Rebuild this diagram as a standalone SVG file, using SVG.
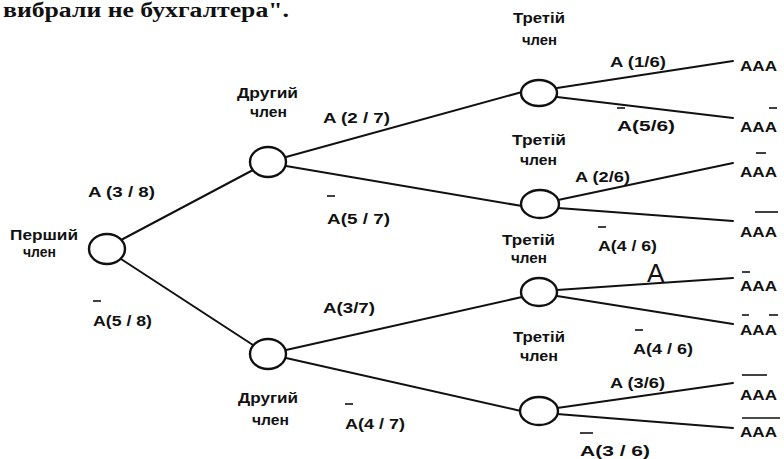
<svg xmlns="http://www.w3.org/2000/svg" width="784" height="459" viewBox="0 0 784 459">
  <style>
    .bg { fill: #ffffff; }
    .node { fill: #ffffff; stroke: #111; stroke-width: 2.4; }
    .edge { stroke: #111; stroke-width: 2; fill: none; stroke-linecap: round; }
    .bar { stroke: #111; stroke-width: 1.6; fill: none; }
    .lbl { font-family: "Liberation Sans", Arial, sans-serif; font-weight: bold; font-size: 15px; fill: #111; }
    .big { font-family: "Liberation Sans", Arial, sans-serif; font-size: 26px; fill: #111; }
    .head { font-family: "Liberation Serif", "Times New Roman", serif; font-weight: bold; font-size: 20px; fill: #111; }
  </style>
  <rect class="bg" x="0" y="0" width="784" height="459"/>

  <!-- heading line -->
  <text class="head" x="3" y="17" textLength="286" lengthAdjust="spacingAndGlyphs">вибрали не бухгалтера".</text>

  <!-- connectors -->
  <g id="connectors">
    <line class="edge" x1="121" y1="240" x2="253" y2="170"/>
    <line class="edge" x1="121" y1="259" x2="253" y2="345"/>
    <line class="edge" x1="286" y1="157" x2="522" y2="92"/>
    <line class="edge" x1="286" y1="166" x2="522" y2="206"/>
    <line class="edge" x1="286" y1="350" x2="522" y2="297"/>
    <line class="edge" x1="286" y1="358" x2="521" y2="411"/>
    <line class="edge" x1="557" y1="88" x2="733" y2="61"/>
    <line class="edge" x1="557" y1="97" x2="733" y2="118"/>
    <line class="edge" x1="558" y1="200" x2="733" y2="163"/>
    <line class="edge" x1="558" y1="208" x2="733" y2="221"/>
    <line class="edge" x1="557" y1="290" x2="733" y2="278"/>
    <line class="edge" x1="557" y1="296" x2="733" y2="324"/>
    <line class="edge" x1="557" y1="408" x2="733" y2="383"/>
    <line class="edge" x1="557" y1="414" x2="733" y2="428"/>
  </g>

  <!-- branch probabilities -->
  <g id="edge-labels">
    <text class="lbl" x="88" y="197" textLength="67" lengthAdjust="spacingAndGlyphs">A (3 / 8)</text>
    <text class="lbl" x="93" y="326" textLength="59" lengthAdjust="spacingAndGlyphs">A(5 / 8)</text>
    <line class="bar" x1="93" y1="301" x2="101" y2="301"/>
    <text class="lbl" x="323" y="123" textLength="67" lengthAdjust="spacingAndGlyphs">A (2 / 7)</text>
    <text class="lbl" x="327" y="224" textLength="63" lengthAdjust="spacingAndGlyphs">A(5 / 7)</text>
    <line class="bar" x1="327" y1="196" x2="335" y2="196"/>
    <text class="lbl" x="323" y="313" textLength="52" lengthAdjust="spacingAndGlyphs">A(3/7)</text>
    <text class="lbl" x="345" y="429" textLength="60" lengthAdjust="spacingAndGlyphs">A(4 / 7)</text>
    <line class="bar" x1="345" y1="404" x2="353" y2="404"/>
    <text class="lbl" x="610" y="67" textLength="56" lengthAdjust="spacingAndGlyphs">A (1/6)</text>
    <text class="lbl" x="617" y="131" textLength="58" lengthAdjust="spacingAndGlyphs">A(5/6)</text>
    <line class="bar" x1="617" y1="108" x2="625" y2="108"/>
    <text class="lbl" x="575" y="182" textLength="55" lengthAdjust="spacingAndGlyphs">A (2/6)</text>
    <text class="lbl" x="598" y="251" textLength="59" lengthAdjust="spacingAndGlyphs">A(4 / 6)</text>
    <line class="bar" x1="598" y1="227" x2="606" y2="227"/>
    <text class="big" x="647" y="282">A</text>
    <text class="lbl" x="633" y="354" textLength="60" lengthAdjust="spacingAndGlyphs">A(4 / 6)</text>
    <line class="bar" x1="635" y1="330" x2="643" y2="330"/>
    <text class="lbl" x="610" y="388" textLength="55" lengthAdjust="spacingAndGlyphs">A (3/6)</text>
    <text class="lbl" x="580" y="456" textLength="70" lengthAdjust="spacingAndGlyphs">A(3 / 6)</text>
    <line class="bar" x1="580" y1="433" x2="593" y2="433"/>
  </g>

  <!-- tree nodes -->
  <g id="n1">
    <ellipse class="node" cx="107" cy="249" rx="18" ry="15"/>
    <text class="lbl" x="10" y="240" textLength="68" lengthAdjust="spacingAndGlyphs">Перший</text>
    <text class="lbl" x="23" y="257" textLength="33" lengthAdjust="spacingAndGlyphs">член</text>
  </g>
  <g id="n2-top">
    <ellipse class="node" cx="268" cy="162" rx="18" ry="15"/>
    <text class="lbl" x="237" y="98" textLength="61" lengthAdjust="spacingAndGlyphs">Другий</text>
    <text class="lbl" x="250" y="117" textLength="37" lengthAdjust="spacingAndGlyphs">член</text>
  </g>
  <g id="n2-bottom">
    <ellipse class="node" cx="268" cy="354" rx="18" ry="15"/>
    <text class="lbl" x="238" y="403" textLength="60" lengthAdjust="spacingAndGlyphs">Другий</text>
    <text class="lbl" x="252" y="425" textLength="37" lengthAdjust="spacingAndGlyphs">член</text>
  </g>
  <g id="n3-1">
    <ellipse class="node" cx="539" cy="93" rx="18" ry="13"/>
    <text class="lbl" x="513" y="23" textLength="52" lengthAdjust="spacingAndGlyphs">Третій</text>
    <text class="lbl" x="522" y="45" textLength="35" lengthAdjust="spacingAndGlyphs">член</text>
  </g>
  <g id="n3-2">
    <ellipse class="node" cx="540" cy="204" rx="19" ry="14"/>
    <text class="lbl" x="512" y="145" textLength="54" lengthAdjust="spacingAndGlyphs">Третій</text>
    <text class="lbl" x="520" y="165" textLength="37" lengthAdjust="spacingAndGlyphs">член</text>
  </g>
  <g id="n3-3">
    <ellipse class="node" cx="539" cy="292" rx="18" ry="14"/>
    <text class="lbl" x="502" y="245" textLength="53" lengthAdjust="spacingAndGlyphs">Третій</text>
    <text class="lbl" x="511" y="263" textLength="36" lengthAdjust="spacingAndGlyphs">член</text>
  </g>
  <g id="n3-4">
    <ellipse class="node" cx="539" cy="411" rx="19" ry="14"/>
    <text class="lbl" x="513" y="342" textLength="52" lengthAdjust="spacingAndGlyphs">Третій</text>
    <text class="lbl" x="520" y="361" textLength="38" lengthAdjust="spacingAndGlyphs">член</text>
  </g>

  <!-- outcomes -->
  <g id="leaf-1"><text class="lbl" x="740" y="71" textLength="37" lengthAdjust="spacingAndGlyphs">AAA</text></g>
  <g id="leaf-2"><text class="lbl" x="740" y="132" textLength="37" lengthAdjust="spacingAndGlyphs">AAA</text>
    <line class="bar" x1="769" y1="108" x2="777" y2="108"/></g>
  <g id="leaf-3"><text class="lbl" x="740" y="177" textLength="37" lengthAdjust="spacingAndGlyphs">AAA</text>
    <line class="bar" x1="756" y1="153" x2="766" y2="153"/></g>
  <g id="leaf-4"><text class="lbl" x="740" y="237" textLength="37" lengthAdjust="spacingAndGlyphs">AAA</text>
    <line class="bar" x1="755" y1="212" x2="778" y2="212"/></g>
  <g id="leaf-5"><text class="lbl" x="740" y="291" textLength="37" lengthAdjust="spacingAndGlyphs">AAA</text>
    <line class="bar" x1="742" y1="272" x2="750" y2="272"/></g>
  <g id="leaf-6"><text class="lbl" x="740" y="335" textLength="37" lengthAdjust="spacingAndGlyphs">AAA</text>
    <line class="bar" x1="742" y1="315" x2="749" y2="315"/>
    <line class="bar" x1="769" y1="315" x2="778" y2="315"/></g>
  <g id="leaf-7"><text class="lbl" x="740" y="400" textLength="37" lengthAdjust="spacingAndGlyphs">AAA</text>
    <line class="bar" x1="742" y1="375" x2="767" y2="375"/></g>
  <g id="leaf-8"><text class="lbl" x="740" y="437" textLength="37" lengthAdjust="spacingAndGlyphs">AAA</text>
    <line class="bar" x1="742" y1="418" x2="780" y2="418"/></g>
</svg>
